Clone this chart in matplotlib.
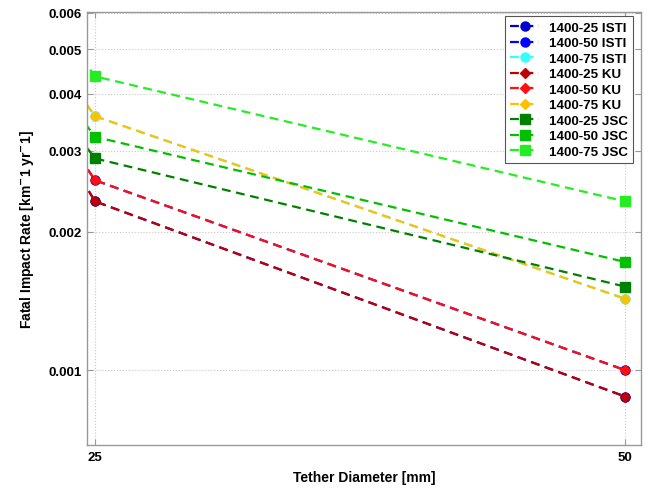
import matplotlib
matplotlib.use("Agg")
import matplotlib.pyplot as plt
from matplotlib.ticker import FixedLocator, NullLocator, FixedFormatter

plt.rcParams['font.family'] = ['Liberation Sans', 'DejaVu Sans']

diameters = [20, 25, 50]
labels = ["1400-25 ISTI", "1400-50 ISTI", "1400-75 ISTI",
          "1400-25 KU", "1400-50 KU", "1400-75 KU",
          "1400-25 JSC", "1400-50 JSC", "1400-75 JSC"]
isti_25 = [0.0056, 0.00233, 0.000876]
isti_50 = [0.0057, 0.00259, 0.00100]
isti_75 = [0.0075, 0.00357, 0.00143]
ku_25 = [0.0056, 0.00233, 0.000876]
ku_50 = [0.0057, 0.00259, 0.00100]
ku_75 = [0.0075, 0.00357, 0.00143]
jsc_25 = [0.0058, 0.00289, 0.00152]
jsc_50 = [0.0066, 0.00322, 0.00172]
jsc_75 = [0.0092, 0.00436, 0.00233]
series = [isti_25, isti_50, isti_75, ku_25, ku_50, ku_75, jsc_25, jsc_50, jsc_75]
colors = ['#0000CC', '#0000FF', '#33FFFF', '#C00000', '#FF1010', '#FFC000',
          '#008000', '#00C000', '#22EE22']
markers = ['o', 'o', 'o', 'D', 'D', 'D', 's', 's', 's']
msizes = [6.5, 6.5, 6.5, 5.5, 5.5, 5.5, 6.5, 6.5, 6.5]

yticks = [0.001, 0.002, 0.003, 0.004, 0.005, 0.006]
ytick_labels = ["0.001", "0.002", "0.003", "0.004", "0.005", "0.006"]
xticks = [25, 50]
xtick_labels = ["25", "50"]

fig = plt.figure(figsize=(6.53, 4.89), dpi=100)
ax = fig.add_axes([0.1332, 0.0879, 0.8484, 0.8855])

for vals, lab, c, m, ms in zip(series, labels, colors, markers, msizes):
    ax.plot(diameters, vals, linestyle='--', color=c, marker=m, markersize=ms,
            linewidth=1.6, label=lab, dashes=(4, 2.5))

ax.set_yscale('log')
ax.set_ylim(0.000687, 0.00602)
ax.set_xlim(24.62, 50.75)
ax.yaxis.set_major_locator(FixedLocator(yticks))
ax.yaxis.set_major_formatter(FixedFormatter(ytick_labels))
ax.yaxis.set_minor_locator(NullLocator())
ax.xaxis.set_major_locator(FixedLocator(xticks))
ax.xaxis.set_major_formatter(FixedFormatter(xtick_labels))

ax.grid(True, linestyle=':', color='#c8c8c8', linewidth=0.8)
for s in ax.spines.values():
    s.set_color('#999999')
    s.set_linewidth(1.0)
ax.tick_params(direction='in', top=True, right=True, length=4, color='#999999',
               labelsize=9.5, pad=4)
for t in ax.get_xticklabels() + ax.get_yticklabels():
    t.set_fontweight('bold')

ax.set_xlabel("Tether Diameter [mm]", fontsize=10, fontweight='bold', labelpad=5)
ax.set_ylabel("Fatal Impact Rate [km$^{\\mathbf{-}}$1 yr$^{\\mathbf{-}}$1]", fontsize=10,
              fontweight='bold', labelpad=9)

leg = ax.legend(loc='upper right', handlelength=2.2, handletextpad=0.7,
                labelspacing=0.24, borderpad=0.4, borderaxespad=0, fancybox=False,
                bbox_to_anchor=(0.9856, 0.9908), prop={'weight': 'bold', 'size': 9.6})
leg.get_frame().set_edgecolor('#555555')
leg.get_frame().set_linewidth(0.8)
leg.get_frame().set_alpha(1)

fig.savefig("out.png", dpi=100)
